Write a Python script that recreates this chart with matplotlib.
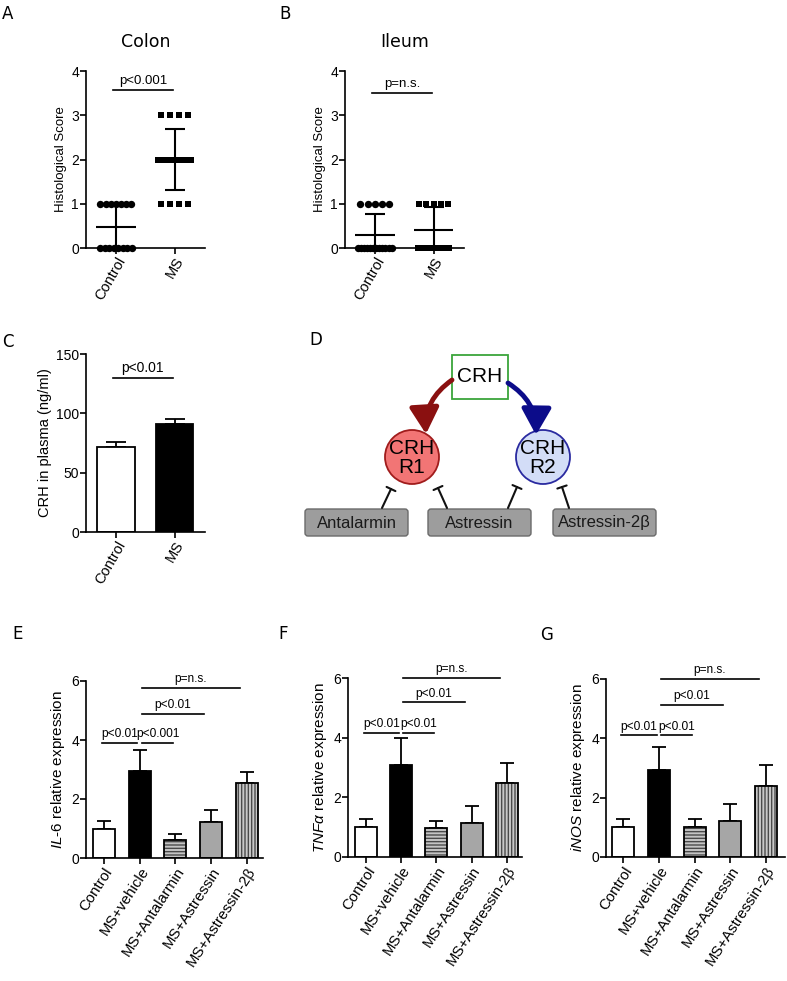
import numpy as np
import matplotlib
matplotlib.use("Agg")
import matplotlib.pyplot as plt
from matplotlib.patches import Circle, FancyBboxPatch, Rectangle, FancyArrowPatch

plt.rcParams['font.family'] = ['Liberation Sans', 'DejaVu Sans']
plt.rcParams['mathtext.fontset'] = 'custom'
plt.rcParams['mathtext.rm'] = 'Liberation Sans'
plt.rcParams['mathtext.it'] = 'Liberation Sans:italic'
plt.rcParams['hatch.linewidth'] = 1.0

# ---- data ----
colon_control = [0, 0, 0, 0, 0, 0, 0, 0, 1, 1, 1, 1, 1, 1, 1]
colon_ms = [1, 1, 1, 1, 2, 2, 2, 2, 2, 2, 2, 2, 2, 2, 3, 3, 3, 3]
ileum_control = [0, 0, 0, 0, 0, 0, 0, 0, 0, 0, 0, 0, 1, 1, 1, 1, 1]
ileum_ms = [0, 0, 0, 0, 0, 0, 0, 1, 1, 1, 1, 1]

crh_groups = ['Control', 'MS']
crh_mean = [72, 91]
crh_err = [4, 4]

treat_groups = ['Control', 'MS+vehicle', 'MS+Antalarmin', 'MS+Astressin', 'MS+Astressin-2β']
il6_mean = [1.0, 2.95, 0.62, 1.22, 2.55]
il6_err = [0.25, 0.70, 0.20, 0.40, 0.37]
tnf_mean = [1.0, 3.10, 0.97, 1.15, 2.48]
tnf_err = [0.28, 0.90, 0.25, 0.55, 0.67]
inos_mean = [1.0, 2.93, 1.0, 1.20, 2.40]
inos_err = [0.28, 0.79, 0.27, 0.58, 0.70]

il6_sig = [(0, 1, 3.9, 'p<0.01'), (1, 2, 3.9, 'p<0.001'), (1, 3, 4.88, 'p<0.01'), (1, 4, 5.76, 'p=n.s.')]
tnf_sig = [(0, 1, 4.17, 'p<0.01'), (1, 2, 4.17, 'p<0.01'), (1, 3, 5.18, 'p<0.01'), (1, 4, 6.0, 'p=n.s.')]
inos_sig = [(0, 1, 4.1, 'p<0.01'), (1, 2, 4.1, 'p<0.01'), (1, 3, 5.13, 'p<0.01'), (1, 4, 6.0, 'p=n.s.')]

W, H = 787, 981
fig = plt.figure(figsize=(W / 100, H / 100), dpi=100)


def rect(x0, x1, ytop, ybot):
    return [x0 / W, 1 - ybot / H, (x1 - x0) / W, (ybot - ytop) / H]


def style_ax(ax, fs=10, xfs=10.5):
    for s in ['top', 'right']:
        ax.spines[s].set_visible(False)
    for s in ['left', 'bottom']:
        ax.spines[s].set_linewidth(1.2)
    ax.tick_params(direction='out', length=4, width=1.2, labelsize=fs, pad=1)
    ax.tick_params(axis='x', labelsize=xfs)


def sig_bar(ax, x0, x1, y, txt, fs=9.5):
    ax.plot([x0, x1], [y, y], color='black', lw=1.2, clip_on=False)
    ax.annotate(txt, ((x0 + x1) / 2, y), xytext=(0, 2), textcoords='offset points',
                ha='center', va='bottom', fontsize=fs, annotation_clip=False)


def swarm(ax, x, vals, marker, ms):
    vals = np.array(vals)
    for v in np.unique(vals):
        n = (vals == v).sum()
        step = min(0.15, 0.62 / n)
        xs = x + (np.arange(n) - (n - 1) / 2) * step
        ax.scatter(xs, [v] * n, marker=marker, s=ms, color='black', zorder=3, clip_on=False, linewidths=0)
    m, sd = vals.mean(), vals.std(ddof=1)
    ax.hlines(m, x - 0.34, x + 0.34, color='black', lw=1.5, zorder=4)
    ax.errorbar(x, m, yerr=sd, fmt='none', ecolor='black', elinewidth=1.5, capsize=7, capthick=1.5, zorder=4)


def score_panel(rc, ctrl, ms, title, sig_y, sig_txt):
    ax = fig.add_axes(rc)
    swarm(ax, 0, ctrl, 'o', 28)
    swarm(ax, 1, ms, 's', 24)
    ax.set_xlim(-0.51, 1.52)
    ax.set_ylim(0, 4)
    ax.set_yticks([0, 1, 2, 3, 4])
    ax.set_xticks([0, 1])
    ax.set_xticklabels(['Control', 'MS'], rotation=60, ha='right', rotation_mode='anchor')
    ax.set_ylabel('Histological Score', fontsize=9.5, labelpad=3)
    style_ax(ax)
    sig_bar(ax, -0.05, 0.97, sig_y, sig_txt)
    ax.set_title(title, fontsize=12.5, family='DejaVu Sans', pad=17)
    return ax


score_panel(rect(86, 205, 71, 248), colon_control, colon_ms, 'Colon', 3.57, 'p<0.001')
score_panel(rect(345, 464, 71, 248), ileum_control, ileum_ms, 'Ileum', 3.50, 'p=n.s.')

# ---- C ----
axc = fig.add_axes(rect(86, 205, 354, 532))
xc = np.arange(len(crh_groups))
axc.bar(xc, crh_mean, width=0.64, color=['white', 'black'], edgecolor='black', lw=1.3, zorder=2)
axc.errorbar(xc, crh_mean, yerr=[[0, 0], crh_err], fmt='none', ecolor='black', elinewidth=1.3,
             capsize=7, capthick=1.3, zorder=1)
axc.set_xlim(-0.51, 1.52)
axc.set_ylim(0, 150)
axc.set_yticks([0, 50, 100, 150])
axc.set_xticks(xc)
axc.set_xticklabels(crh_groups, rotation=60, ha='right', rotation_mode='anchor')
axc.set_ylabel('CRH in plasma (ng/ml)', fontsize=10.5, labelpad=3)
style_ax(axc)
sig_bar(axc, -0.05, 0.97, 130, 'p<0.01', fs=10)

# ---- D: schematic ----
axd = fig.add_axes([0, 0, 1, 1], zorder=-1)
axd.set_xlim(0, W)
axd.set_ylim(H, 0)
axd.axis('off')

axd.add_patch(Rectangle((452, 355), 56, 44, facecolor='white', edgecolor='#3aa53a', lw=1.3))
axd.text(480, 377, 'CRH', ha='center', va='center', fontsize=15)
axd.add_patch(Circle((412, 457), 27, facecolor='#f27575', edgecolor='#a01c1c', lw=1.3))
axd.text(412, 458, 'CRH\nR1', ha='center', va='center', fontsize=15, linespacing=0.95)
axd.add_patch(Circle((543, 457), 27, facecolor='#d3ddf7', edgecolor='#2a2aa0', lw=1.3))
axd.text(543, 458, 'CRH\nR2', ha='center', va='center', fontsize=15, linespacing=0.95)

axd.add_patch(FancyArrowPatch((452, 380), (426, 434), connectionstyle='arc3,rad=0.28',
                              arrowstyle='-|>,head_length=0.8,head_width=0.45', mutation_scale=20,
                              color='#8a1010', lw=3.5, shrinkA=0, shrinkB=0))
axd.add_patch(FancyArrowPatch((508, 383), (536, 435), connectionstyle='arc3,rad=-0.28',
                              arrowstyle='-|>,head_length=0.8,head_width=0.45', mutation_scale=20,
                              color='#0c0c8a', lw=3.5, shrinkA=0, shrinkB=0))

boxes = [(305, 'Antalarmin'), (428, 'Astressin'), (553, 'Astressin-2β')]
for bx, label in boxes:
    axd.add_patch(FancyBboxPatch((bx, 509), 103, 27, boxstyle='round,pad=0,rounding_size=3',
                                 facecolor='#9d9d9d', edgecolor='#6a6a6a', lw=1.0))
    axd.text(bx + 51.5, 523, label, ha='center', va='center', fontsize=12, color='#1a1a1a')

inhib = [((382, 508), (391, 489)), ((447, 508), (438, 488)),
         ((508, 508), (517, 487)), ((569, 508), (562, 487))]
for p0, p1 in inhib:
    axd.annotate('', xy=p1, xytext=p0,
                 arrowprops=dict(arrowstyle='-[,widthB=0.22,lengthB=0', lw=1.5, color='#111111',
                                 shrinkA=0, shrinkB=0, mutation_scale=16))

# ---- E, F, G ----
face = ['white', 'black', '#c4c4c4', '#a6a6a6', '#c8c8c8']
hatches = [None, None, '-----', None, '|||||']


def expr_panel(rc, means, errs, sigs, ylabel, xlim):
    ax = fig.add_axes(rc)
    x = np.arange(len(treat_groups))
    for i in x:
        ax.bar(i, means[i], width=0.62, color=face[i], hatch=hatches[i],
               edgecolor='#4a4a4a' if hatches[i] else face[i], lw=0, zorder=2)
        ax.bar(i, means[i], width=0.62, fill=False, edgecolor='black', lw=1.3, zorder=3)
    ax.errorbar(x, means, yerr=[np.zeros(len(x)), errs], fmt='none', ecolor='black',
                elinewidth=1.3, capsize=5, capthick=1.3, zorder=1)
    ax.set_xlim(*xlim)
    ax.set_ylim(0, 6)
    ax.set_yticks([0, 2, 4, 6])
    ax.set_xticks(x)
    ax.set_xticklabels(treat_groups, rotation=57, ha='right', rotation_mode='anchor')
    ax.set_ylabel(ylabel, fontsize=11, labelpad=3)
    style_ax(ax, fs=10, xfs=10.8)
    for i, j, y, t in sigs:
        x0 = i + (0.06 if i > 0 else -0.06)
        x1 = j - (0.06 if j - i == 1 else 0.2)
        sig_bar(ax, x0, x1, y, t, fs=8.6)
    return ax


expr_panel(rect(86, 263, 681, 858), il6_mean, il6_err, il6_sig,
           r'$\mathit{IL}$-$\mathit{6}$ relative expression', (-0.5, 4.45))
expr_panel(rect(348, 522, 678, 857), tnf_mean, tnf_err, tnf_sig,
           r'$\mathit{TNF\alpha}$ relative expression', (-0.51, 4.43))
expr_panel(rect(606, 785, 679, 857), inos_mean, inos_err, inos_sig,
           r'$\mathit{iNOS}$ relative expression', (-0.48, 4.53))

# panel letters
letters = [('A', 2, 5), ('B', 279, 5), ('C', 2, 333), ('D', 309, 331),
           ('E', 12, 625), ('F', 278, 625), ('G', 540, 626)]
for t, lx, ly in letters:
    fig.text(lx / W, 1 - ly / H, t, fontsize=12, family='DejaVu Sans', va='top', ha='left')

fig.savefig('out.png', dpi=100, facecolor='white')
